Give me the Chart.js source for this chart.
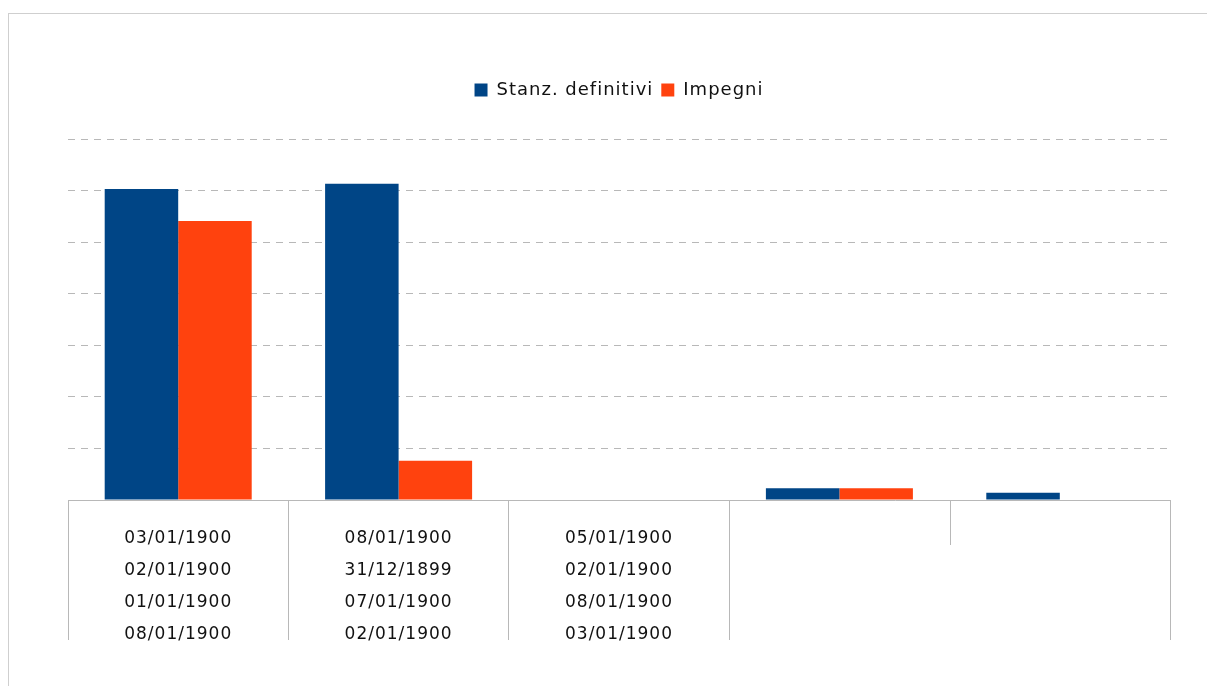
<!DOCTYPE html>
<html>
<head>
<meta charset="utf-8">
<script src="https://cdn.jsdelivr.net/npm/chart.js@4.4.1/dist/chart.umd.min.js"></script>
<style>
  html, body { margin: 0; padding: 0; background: #fff; }
  #frame { position: absolute; left: 8px; top: 13px; width: 1300px; height: 800px;
           border-top: 1px solid #cfcfcf; border-left: 1px solid #cfcfcf; }
  #wrap { position: absolute; left: 0; top: 0; width: 1207px; height: 686px; }
</style>
</head>
<body>
<div id="frame"></div>
<div id="wrap"><canvas id="chart"></canvas></div>
<script>
// categorie (etichette su più righe)
const categorie = [
  ["03/01/1900", "02/01/1900", "01/01/1900", "08/01/1900"],
  ["08/01/1900", "31/12/1899", "07/01/1900", "02/01/1900"],
  ["05/01/1900", "02/01/1900", "08/01/1900", "03/01/1900"],
  "",
  ""
];
const stanziamenti = [6.03, 6.13, 0, 0.23, 0.14];
const impegni = [5.41, 0.76, 0, 0.23, 0];

const BLU = "#004586";
const ARANCIO = "#ff420e";
const GRIGIO = "#b8b8b8";

// spazio extra sotto la legenda
const legendGap = {
  id: "legendGap",
  beforeInit(chart) {
    const fit = chart.legend.fit;
    chart.legend.fit = function () {
      fit.bind(chart.legend)();
      this.height += 30;
    };
  }
};

// testo un po' spaziato come nell'originale
const spacing = {
  id: "spacing",
  beforeUpdate(chart) { chart.ctx.letterSpacing = "1px"; },
  beforeDraw(chart) { chart.ctx.letterSpacing = "1px"; }
};

// tacca corta tra la 4a e la 5a categoria
const shortTick = {
  id: "shortTick",
  afterDraw(chart) {
    const x = chart.scales.x;
    const px = (x.getPixelForTick(3) + x.getPixelForTick(4)) / 2;
    const ctx = chart.ctx;
    ctx.save();
    ctx.strokeStyle = GRIGIO;
    ctx.lineWidth = 1;
    ctx.beginPath();
    ctx.moveTo(Math.round(px) + 0.5, x.top);
    ctx.lineTo(Math.round(px) + 0.5, x.top + 45);
    ctx.stroke();
    ctx.restore();
  }
};

new Chart(document.getElementById("chart"), {
  type: "bar",
  data: {
    labels: categorie,
    datasets: [
      { label: "Stanz. definitivi", data: stanziamenti, backgroundColor: BLU },
      { label: "Impegni", data: impegni, backgroundColor: ARANCIO }
    ]
  },
  options: {
    responsive: true,
    maintainAspectRatio: false,
    animation: false,
    layout: { padding: { left: 68, right: 37, top: 73, bottom: 36 } },
    datasets: { bar: { barPercentage: 1, categoryPercentage: 0.667 } },
    plugins: {
      legend: {
        position: "top",
        labels: {
          boxWidth: 13,
          boxHeight: 13,
          padding: 8,
          color: "#111",
          font: { family: "DejaVu Sans", size: 18 }
        }
      },
      tooltip: { enabled: false }
    },
    scales: {
      x: {
        afterFit(scale) { scale.height = 150; },
        grid: {
          offset: true,
          drawOnChartArea: false,
          tickLength: 140,
          tickColor: (c) => (c.index === 4 ? "rgba(0,0,0,0)" : GRIGIO)
        },
        border: { display: true, color: GRIGIO },
        ticks: {
          padding: -117,
          color: "#111",
          maxRotation: 0,
          autoSkip: false,
          font: { family: "DejaVu Sans", size: 17, lineHeight: 1.88 }
        }
      },
      y: {
        min: 0,
        max: 7,
        ticks: { display: false, stepSize: 1 },
        grid: { color: GRIGIO, drawTicks: false },
        border: { display: false, dash: [7, 6] }
      }
    }
  },
  plugins: [legendGap, spacing, shortTick]
});
</script>
</body>
</html>
